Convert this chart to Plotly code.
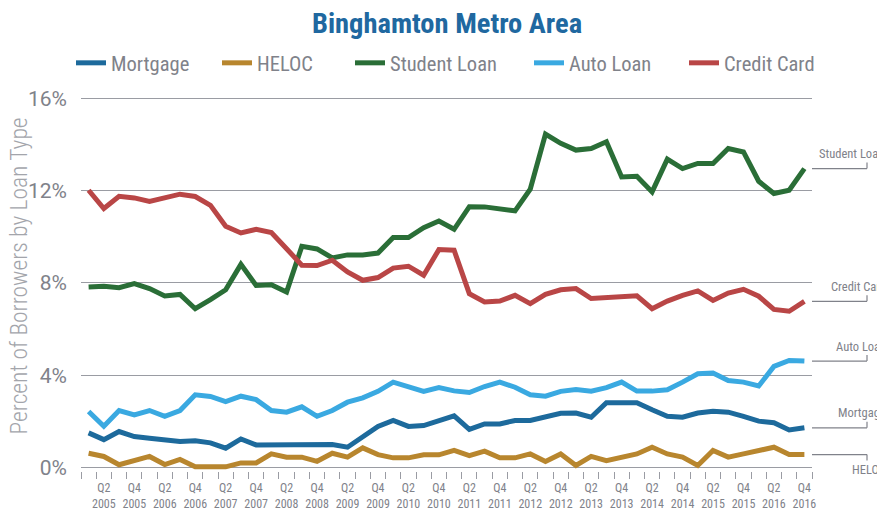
import plotly.graph_objects as go

years = list(range(2005, 2017))
quarters = [f"Q{q} {y}" for y in years for q in (1, 2, 3, 4)]

mortgage = [1.50, 1.21, 1.56, 1.34, 1.27, 1.21, 1.13, 1.16, 1.07, 0.84, 1.24, 0.98,
            0.98, 0.98, 0.98, 1.01, 1.00, 0.88, 1.34, 1.78, 2.04, 1.78, 1.82, 2.01,
            2.24, 1.65, 1.89, 1.89, 2.04, 2.04, 2.21, 2.35, 2.36, 2.18, 2.81, 2.79,
            2.81, 2.50, 2.22, 2.18, 2.36, 2.44, 2.40, 2.22, 2.01, 1.94, 1.63, 1.72]
heloc = [0.62, 0.48, 0.12, 0.30, 0.48, 0.13, 0.35, 0.03, 0.03, 0.03, 0.20, 0.20,
         0.59, 0.45, 0.45, 0.27, 0.62, 0.45, 0.85, 0.56, 0.42, 0.42, 0.55, 0.55,
         0.74, 0.52, 0.71, 0.42, 0.42, 0.59, 0.26, 0.59, 0.09, 0.48, 0.30, 0.45,
         0.59, 0.88, 0.59, 0.45, 0.09, 0.74, 0.45, 0.59, 0.74, 0.88, 0.56, 0.56]
student_loan = [7.82, 7.85, 7.79, 7.97, 7.75, 7.43, 7.50, 6.88, 7.27, 7.70, 8.80, 7.89,
                7.92, 7.60, 9.58, 9.47, 9.08, 9.21, 9.21, 9.29, 9.96, 9.96, 10.39, 10.68,
                10.32, 11.30, 11.29, 11.23, 11.12, 12.06, 14.44, 14.04, 13.75, 13.82, 14.11, 12.59,
                12.62, 11.94, 13.36, 12.95, 13.17, 13.17, 13.82, 13.67, 12.40, 11.87, 12.01, 12.95]
auto_loan = [2.43, 1.79, 2.47, 2.28, 2.47, 2.22, 2.47, 3.15, 3.08, 2.86, 3.09, 2.94,
             2.47, 2.40, 2.63, 2.22, 2.47, 2.83, 3.02, 3.30, 3.70, 3.48, 3.30, 3.46,
             3.32, 3.25, 3.51, 3.70, 3.48, 3.15, 3.09, 3.30, 3.38, 3.31, 3.46, 3.70,
             3.31, 3.31, 3.37, 3.70, 4.06, 4.09, 3.77, 3.70, 3.53, 4.38, 4.64, 4.61]
credit_card = [12.01, 11.22, 11.75, 11.68, 11.53, 11.68, 11.84, 11.74, 11.36, 10.45, 10.16, 10.32,
               10.18, 9.48, 8.76, 8.75, 8.98, 8.47, 8.11, 8.23, 8.64, 8.72, 8.33, 9.44,
               9.41, 7.53, 7.17, 7.21, 7.46, 7.10, 7.50, 7.70, 7.75, 7.32, 7.36, 7.43,
               7.44, 6.88, 7.21, 7.46, 7.65, 7.24, 7.56, 7.72, 7.42, 6.85, 6.77, 7.20]

series = [
    ("Mortgage", mortgage, "#1d6a9c"),
    ("HELOC", heloc, "#b8862e"),
    ("Student Loan", student_loan, "#2a6e37"),
    ("Auto Loan", auto_loan, "#3aa9e1"),
    ("Credit Card", credit_card, "#b94646"),
]

y_ticks = [0, 4, 8, 12, 16]
y_ticktext = ["0%", "4%", "8%", "12%", "16%"]

x_idx = list(range(len(quarters)))
tick_idx = [i for i, q in enumerate(quarters) if q.startswith("Q2") or q.startswith("Q4")]
tick_txt = [quarters[i].replace(" ", "<br>") for i in tick_idx]

FONT = "Roboto Condensed, Liberation Sans Narrow, DejaVu Sans Condensed, Roboto, sans-serif"
FONT_WIDE = "Roboto, Noto Sans, sans-serif"
GRAY = "#80828a"

# figure geometry (page body has an 8px margin)
FW, FH = 877, 509
L, R, T, B = 73, 73, 89, 46
W = FW - L - R
H = FH - T - B

def px_x(px):
    return (px - L) / W

fig = go.Figure()
legend_px = [63, 209, 342, 521, 676]   # left edge of each legend entry (figure px)
for k, (name, vals, col) in enumerate(series):
    lg = "legend" if k == 0 else f"legend{k + 1}"
    fig.add_trace(go.Scatter(
        x=x_idx, y=vals, name=name, mode="lines",
        line=dict(color=col, width=5),
        legend=lg,
        hovertemplate="%{y:.2f}%<extra>" + name + "</extra>",
    ))

legend_y = 1 + (T - 55) / H
leg_common = dict(orientation="h", xanchor="left", yanchor="middle", y=legend_y,
                  font=dict(family=FONT, size=20.5, color=GRAY), itemwidth=30,
                  bgcolor="rgba(0,0,0,0)", borderwidth=0)
legends = {}
for k, lp in enumerate(legend_px):
    key = "legend" if k == 0 else f"legend{k + 1}"
    legends[key] = dict(leg_common, x=px_x(lp))

# right-side end labels (bracket lines at each series' last value)
label_cfg = {
    "Student Loan": (809, 1),
    "Credit Card": (821, 1),
    "Auto Loan": (826, 1),
    "Mortgage": (828, 1),
    "HELOC": (842, -1),
}
for name, vals, col in series:
    xs, direction = label_cfg[name]
    last = vals[-1]
    fig.add_shape(type="line", xref="paper", yref="y",
                  x0=px_x(804), x1=px_x(859), y0=last, y1=last,
                  line=dict(color=GRAY, width=1.2))
    fig.add_shape(type="line", xref="paper", yref="y", ysizemode="pixel", yanchor=last,
                  x0=px_x(859), x1=px_x(859), y0=0, y1=6 * direction,
                  line=dict(color=GRAY, width=1.2))
    fig.add_annotation(x=px_x(xs), xref="paper", xanchor="left",
                       y=last, yref="y", yshift=15 * direction, showarrow=False,
                       text=name, font=dict(family=FONT, size=12.5, color=GRAY))

# y-axis title as a rotated annotation (exact placement)
fig.add_annotation(x=px_x(11), xref="paper", xanchor="center",
                   y=0.52, yref="paper", yanchor="middle", showarrow=False,
                   textangle=-90, text="Percent of Borrowers by Loan Type",
                   font=dict(family=FONT, size=23.5, color="#a3a5ab", weight=300))

fig.update_layout(
    width=FW, height=FH,
    margin=dict(l=L, r=R, t=T, b=B, autoexpand=False),
    paper_bgcolor="white", plot_bgcolor="white",
    font=dict(family=FONT, color=GRAY),
    title=dict(text="<b>Binghamton Metro Area</b>", x=439 / FW, xanchor="center",
               y=1 - 15 / FH, yanchor="middle",
               font=dict(family=FONT, size=28.5, color="#2068a0")),
    showlegend=True,
    hovermode="x unified",
    **legends,
)
fig.update_yaxes(
    automargin=False,
    range=[-0.15, 16.05], tickvals=y_ticks, ticktext=y_ticktext,
    showgrid=True, gridcolor="#9a9ca3", gridwidth=1.2,
    zeroline=True, zerolinecolor="#9a9ca3", zerolinewidth=1.2,
    showline=False, ticks="", ticklabelstandoff=13,
    tickfont=dict(family=FONT_WIDE, size=21, color=GRAY),
)
fig.update_xaxes(
    automargin=False,
    range=[-0.5, len(quarters) - 0.5],
    tickmode="array", tickvals=tick_idx, ticktext=tick_txt,
    showgrid=False, zeroline=False, showline=False, ticks="",
    tickfont=dict(family=FONT, size=12, color=GRAY),
    minor=dict(tickmode="linear", tick0=-0.5, dtick=1, ticks="outside",
               ticklen=7, tickcolor="#9a9ca3", tickwidth=1.2, showgrid=False),
    ticklabelstandoff=8,
)

fig.write_html("out.html")
